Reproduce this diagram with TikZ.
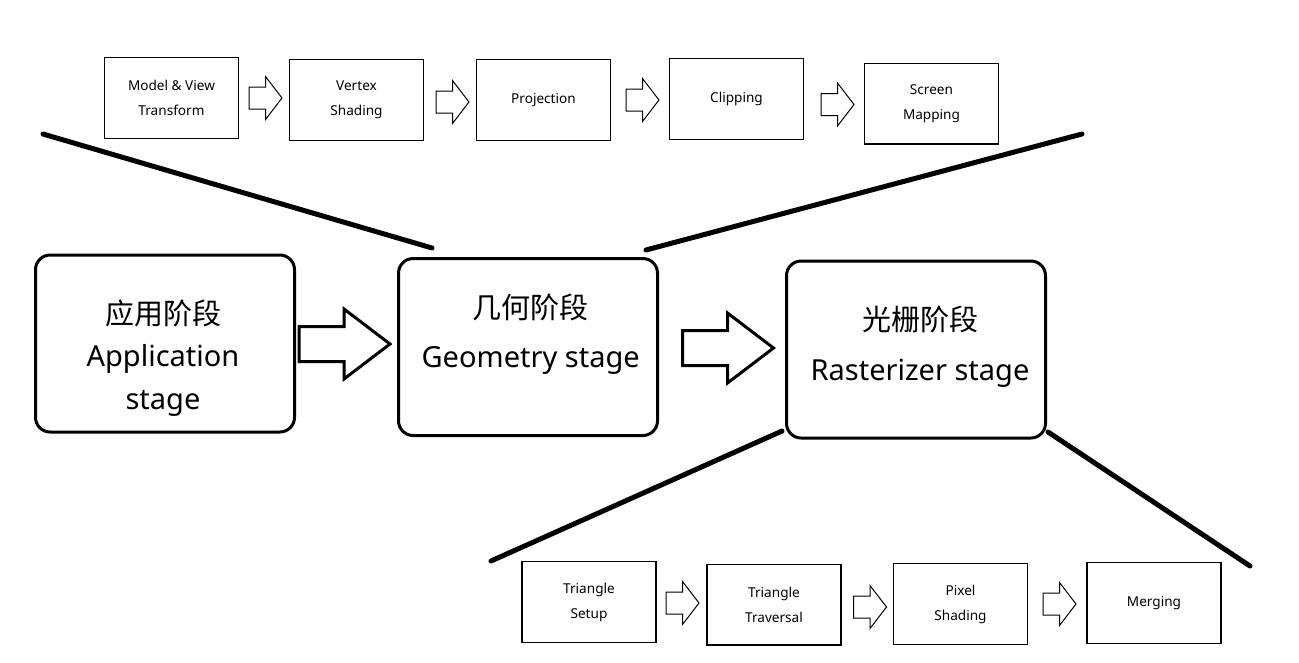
\documentclass[tikz,border=0pt]{standalone}
\usepackage{fontspec}
\setmainfont{Noto Sans}
\newfontfamily\cjk{Noto Sans CJK SC}

\tikzset{
  subbox/.style={draw,line width=1pt,minimum width=100.5pt,minimum height=60.5pt,inner sep=0pt,align=center,font=\fontsize{10.2}{18.75}\selectfont},
  stagebox/.style={draw,line width=2.25pt,rounded corners=11pt,minimum width=194.25pt,minimum height=132.75pt,inner sep=0pt},
  stagetext/.style={align=center,font=\fontsize{21.75}{32}\selectfont},
  bar/.style={line width=3.75pt,line cap=round},
  smallarrow/.pic={\draw[line width=0.75pt] (-16.5,-11) -- (0,-11) -- (0,-21.5) -- (16.5,0) -- (0,21.5) -- (0,11) -- (-16.5,11) -- cycle;},
  bigarrow/.pic={\draw[line width=2.25pt] (-45.5,-17.5) -- (-0.5,-17.5) -- (-0.5,-35) -- (45.5,0) -- (-0.5,35) -- (-0.5,17.5) -- (-45.5,17.5) -- cycle;}
}

\begin{document}
\begin{tikzpicture}[x=0.75pt,y=-0.75pt]
  \useasboundingbox (0,0) rectangle (1299,662);
  % geometry sub-stages
  \node[subbox] (mv) at (171.5,98) {Model \& View\\Transform};
  \node[subbox] (vs) at (356.5,100) {Vertex\\Shading};
  \node[subbox] (proj) at (543.5,100) {Projection};
  \node[subbox] (clip) at (736.5,99) {Clipping};
  \node[subbox] (scr) at (931.5,103.5) {Screen\\Mapping};
  \pic at (265.5,98) {smallarrow};
  \pic at (452.5,102) {smallarrow};
  \pic at (642.5,100) {smallarrow};
  \pic at (837.5,104.5) {smallarrow};
  % main stages
  \node[stagebox,label={[stagetext,xshift=-1.5pt,yshift=-11pt]center:{{\cjk 应用阶段}\\Application\\stage}}] (app) at (165,343.5) {};
  \node[stagebox,label={[stagetext,xshift=2pt,yshift=9.5pt]center:{{\cjk 几何阶段}\\[5pt]Geometry stage}}] (geo) at (528,347) {};
  \node[stagebox,label={[stagetext,xshift=3pt,yshift=2pt]center:{{\cjk 光栅阶段}\\[5pt]Rasterizer stage}}] (ras) at (916,349.5) {};
  \pic at (344.5,344) {bigarrow};
  \pic at (728,348) {bigarrow};
  % rasterizer sub-stages
  \node[subbox] (ts) at (589,602) {Triangle\\Setup};
  \node[subbox] (tt) at (774,604.5) {Triangle\\Traversal};
  \node[subbox] (ps) at (960.5,604) {Pixel\\Shading};
  \node[subbox] (mg) at (1154,603) {Merging};
  \pic at (682.5,603) {smallarrow};
  \pic at (870,607) {smallarrow};
  \pic at (1059.5,604) {smallarrow};
  % zoom lines
  \coordinate (gl) at (43,134);
  \coordinate (gla) at (432,248);
  \coordinate (gra) at (646,250);
  \coordinate (gr) at (1082,134);
  \coordinate (rla) at (782,431);
  \coordinate (rl) at (491,561);
  \coordinate (rra) at (1048,432);
  \coordinate (rr) at (1250,566);
  \draw[bar] (gl) -- (gla);
  \draw[bar] (gra) -- (gr);
  \draw[bar] (rla) -- (rl);
  \draw[bar] (rra) -- (rr);
\end{tikzpicture}
\end{document}
